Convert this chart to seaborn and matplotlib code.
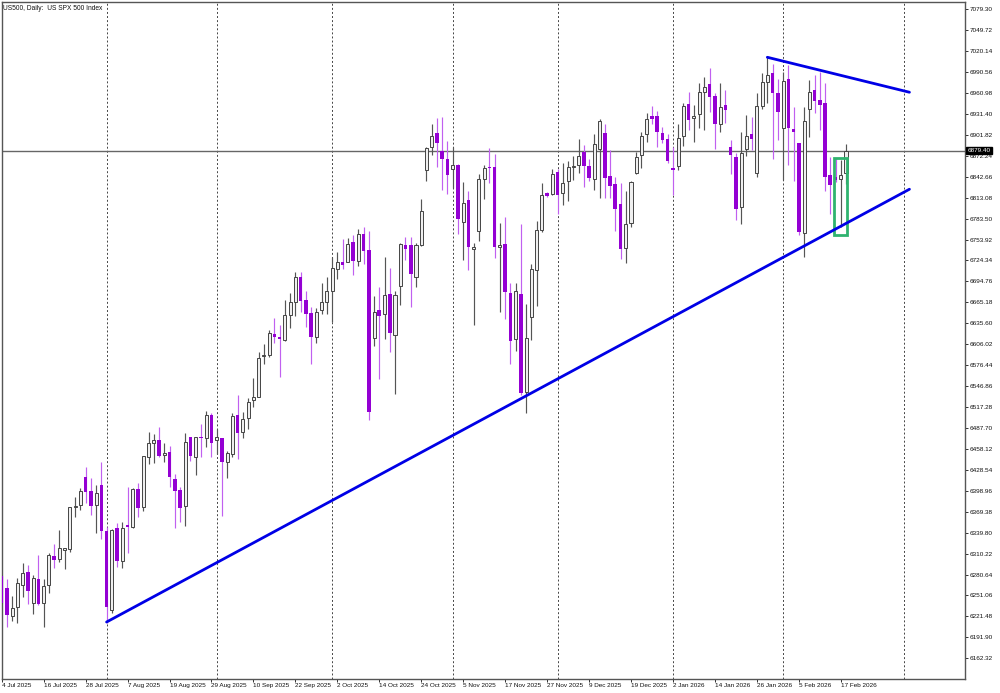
import numpy as np
import pandas as pd
import matplotlib
matplotlib.use("Agg")
import matplotlib.pyplot as plt
from matplotlib.patches import Rectangle
import seaborn as sns

highs = [6278,6273.9,6250.3,6275.3,6296.5,6293.7,6280,6307.8,6273.9,6311.6,
         6323.8,6343.6,6318.6,6376.6,6389.8,6402.5,6432.2,6416.6,6407.2,6439.7,
         6347.4,6344.5,6353,6355.4,6403.9,6402.5,6409.6,6448.6,6482.6,6478.8,
         6489.6,6467,6462.3,6422.7,6403.9,6480.2,6475.5,6475.5,6493.4,6511.8,
         6508.5,6485.9,6473.1,6455.7,6508.5,6534.3,6510.8,6529.6,6558.8,6594.6,
         6606.4,6626.2,6642.7,6633.2,6668.6,6678,6707.6,6708.6,6681.3,6658.2,
         6656.8,6692.1,6700.6,6729.8,6736.9,6754.8,6756.6,6760.4,6768.4,6771.2,
         6766,6674.2,6687.4,6728.8,6713.3,6681.7,6749.6,6757.1,6757.1,6748.7,
         6810.8,6885.3,6917.3,6926.2,6927.6,6893.7,6885.3,6860.8,6834.9,6822.1,
         6749.6,6846.6,6859.4,6882.9,6874.9,6777,6785.4,6693.1,6693.1,6775.5,
         6662.5,6719.5,6780.2,6834.4,6821.7,6853.2,6853.2,6861.7,6865,6872.1,
         6896.1,6887.6,6867.4,6902.7,6923.9,6917.3,6880.5,6841.9,6833.4,6822.6,
         6836.7,6878.1,6906.4,6932.3,6942.7,6935.6,6913.5,6902.6,6885.2,6917.2,
         6946.4,6962.9,6944.1,6975.6,6984.1,6995.9,6960.6,6974.7,6965.3,6894.6,
         6875.8,6905.5,6930,6927.6,6960.6,6988.8,7011.4,7002,6980.4,6991.2,
         7000.6,6940.8,6890.9,6941.7,6979.4,6986.5,6991.2,6974.7,6870.1,6868.7,
         6866.4,6888.5]
body_tops = [6278,6262,6233,6268.2,6282.4,6284.3,6275.3,6273.9,6265,6308.3,
             6307.3,6317.7,6317.7,6375.6,6377.5,6398.7,6419,6398.7,6396.4,6407.2,
             6341.7,6344.1,6346,6346,6350.7,6401.5,6401.5,6448.2,6466.1,6470.8,
             6470.8,6451.9,6453.3,6415.2,6400.1,6468.4,6475.5,6474.5,6475,6506.1,
             6506.1,6475.5,6473.1,6452.9,6505.2,6506,6500.4,6524,6532,6586.1,
             6590.9,6621.5,6620.5,6615.8,6647.4,6666.2,6701.5,6700.6,6668.6,6650.2,
             6651.1,6665.3,6680.8,6714.2,6721.8,6721.8,6747.2,6751,6761.3,6761.3,
             6738.7,6652.1,6654.4,6676.1,6677,6675.2,6747.2,6746.3,6746.3,6746.3,
             6794.4,6882.9,6900.8,6904.1,6879.6,6867.4,6859.8,6859.4,6806.1,6809.9,
             6743,6839.6,6855.6,6856.5,6856.5,6746.8,6747.3,6678,6681.8,6677.5,
             6615.4,6712.4,6767.5,6817.4,6819.8,6846.1,6849.9,6833.4,6856,6857.9,
             6872.1,6877.7,6857.9,6888.5,6921,6905,6843.8,6832.5,6803.7,6775.5,
             6835.3,6871.1,6900.8,6923.8,6928,6928.5,6904,6896,6855.5,6897.9,
             6943.1,6945,6929,6962.9,6969,6973.3,6957.3,6941.7,6944.1,6885.2,
             6871.1,6875.8,6900.8,6902.6,6942.7,6976.1,6986,6989.8,6961.5,6977.5,
             6980.4,6910.2,6890.9,6921.5,6962,6965.3,6951.2,6946.4,6844.7,6842.3,
             6845.2,6879.1]
body_bottoms = [6241,6223.5,6222.6,6234.3,6266.4,6257.9,6240.9,6238.6,6240,6265.4,
                6301.2,6302.2,6315.8,6317.2,6375.6,6379.4,6397.8,6377.5,6378.5,6342.2,
                6235.3,6230.6,6300.3,6300.3,6348.3,6348.3,6374.2,6376.6,6446.3,6467,
                6448.6,6449.1,6419,6398.7,6374.2,6377.5,6448.6,6446.3,6473.1,6473.1,
                6467,6470.3,6439.2,6440.2,6451,6481.1,6481.6,6501.4,6527.3,6532,
                6589.4,6590.9,6615.8,6613,6612,6647.4,6666.2,6667.6,6648.8,6615.8,
                6615.8,6654,6665.3,6680.8,6712.8,6718.5,6722.7,6723.7,6724.1,6738.3,
                6510.3,6614.9,6646,6648.3,6622.4,6619.6,6688.8,6740.7,6705.3,6701.6,
                6746.3,6852.3,6884.3,6890.9,6867.8,6845.7,6854.2,6783,6779.3,6743.9,
                6740.7,6766.6,6839.1,6855.1,6743.9,6743.9,6679.9,6611.1,6613,6537.7,
                6538.6,6645,6711,6767.5,6816,6818.4,6817,6819.3,6837.2,6856.5,
                6858.9,6857.9,6841,6839.6,6881.9,6841.4,6830.1,6796.7,6740.6,6742.5,
                6777.8,6847.5,6873.9,6902.6,6924.8,6906.4,6894.6,6864.9,6851.8,6858.4,
                6900.8,6922.9,6925.3,6930.9,6962.9,6954.9,6917.2,6916.8,6937,6873,
                6797.1,6799.5,6881.9,6896,6847.5,6943.1,6977,6960.6,6933.7,6912,
                6912,6906,6764.6,6763.7,6938.4,6949.3,6944.1,6842.3,6831,6837.6,
                6839,6847.5]
lows = [6241,6206,6215.5,6212.1,6248.5,6239,6224.9,6237.6,6207,6254.1,
        6290.4,6298.9,6288.5,6313,6362.4,6371.9,6382.2,6364.8,6338.9,6330.9,
        6212.7,6225.9,6291.8,6289.4,6311.6,6346,6362.4,6370.5,6436.9,6437.8,
        6447.2,6440.2,6404.8,6346.9,6354.4,6349.3,6441.6,6420.9,6447.2,6460.4,
        6447.2,6450.5,6363.4,6416.6,6447.2,6443.4,6473.1,6485.8,6517.8,6531,
        6577.6,6588.5,6607.3,6559.3,6611.1,6628.5,6646,6652.1,6629.9,6578.1,
        6607.3,6648.3,6648.8,6638,6697.8,6711.9,6721.8,6703.9,6717.1,6719.4,
        6499,6603.6,6557.4,6613.5,6595.1,6535.3,6661,6725.1,6659.2,6686.5,
        6745.4,6836.7,6873.5,6856.1,6824,6817.9,6826.4,6761.9,6725.1,6711,
        6633.7,6752,6811.8,6833.4,6727.5,6651.6,6641.3,6577.7,6597,6534.3,
        6509.4,6612.1,6660.6,6765.2,6813.7,6817,6790.1,6803.3,6808.5,6838.2,
        6847.6,6827.8,6837.2,6824,6812.2,6812.2,6812.2,6766.6,6726,6721.3,
        6771.2,6846.6,6854.6,6892.3,6917.2,6885.2,6889.9,6862.6,6816.9,6852.2,
        6886.6,6908.8,6892.3,6911.1,6908.8,6934.7,6881.4,6906.4,6919.1,6846.6,
        6781.6,6775.5,6872.5,6880.5,6842.8,6938,6946.4,6867.3,6894.6,6838.1,
        6859.3,6837.2,6760.4,6728.8,6899.3,6932.3,6908.8,6823,6789.6,6835.8,
        6772.2,6832.5]
purple_bars = [0,1,5,7,10,16,17,19,20,22,24,26,30,32,33,34,36,38,40,42,45,52,53,57,58,59,
               65,67,69,70,72,74,77,78,83,84,85,87,89,93,94,96,97,99,104,106,111,112,
               115,116,117,118,124,125,126,127,128,131,135,136,138,139,140,143,147,148,
               150,151,152,155,156,157,158,159]

price_ticks = [7079.30,7049.72,7020.14,6990.56,6960.98,6931.40,6901.82,6872.24,
               6842.66,6813.08,6783.50,6753.92,6724.34,6694.76,6665.18,6635.60,
               6606.02,6576.44,6546.86,6517.28,6487.70,6458.12,6428.54,6398.96,
               6369.38,6339.80,6310.22,6280.64,6251.06,6221.48,6191.90,6162.32]
date_labels = ['4 Jul 2025','16 Jul 2025','28 Jul 2025','7 Aug 2025','19 Aug 2025',
               '29 Aug 2025','10 Sep 2025','22 Sep 2025','2 Oct 2025','14 Oct 2025',
               '24 Oct 2025','5 Nov 2025','17 Nov 2025','27 Nov 2025','9 Dec 2025',
               '19 Dec 2025','2 Jan 2026','14 Jan 2026','26 Jan 2026','5 Feb 2026',
               '17 Feb 2026']
date_bars = list(range(0, 168, 8))
month_bars = [20, 41, 63, 86, 106, 128, 149, 172]
last_price = 6879.40

support_x = [20, 173.1]
support_y = [6213.6, 6825]
resistance_x = [146, 173.1]
resistance_y = [7011.4, 6962]
box_x = [158.8, 161.1]
box_y = [6760.4, 6869.6]

sns.set_theme(style="white")
plt.rcParams['font.family'] = ['Liberation Sans', 'DejaVu Sans']

df = pd.DataFrame({'high': highs, 'top': body_tops, 'bottom': body_bottoms, 'low': lows})
df['bar'] = np.arange(len(df))
df['purple'] = df['bar'].isin(purple_bars)

fig = plt.figure(figsize=(10, 6.93), dpi=100)
ax = fig.add_axes([0.0017, 1 - 679 / 693, 0.9636, 677.5 / 693])
ax.set_xlim(0, 183.75)
ax.set_ylim(6133.1, 7090.2)

ax.vlines(month_bars, 6133.1, 7090.2, colors='#444444', linestyles=(0, (2, 2.2)), lw=0.7, zorder=1)
ax.axhline(last_price, color='#666666', lw=1.0, zorder=1)

up = df[~df['purple']]
down = df[df['purple']]
ax.vlines(up['bar'], up['low'], up['high'], colors='#555555', lw=0.85, zorder=2)
ax.vlines(down['bar'], down['low'], down['high'], colors='#c060f0', lw=0.85, zorder=2)
ax.bar(up['bar'], up['top'] - up['bottom'], bottom=up['bottom'], width=0.58,
       facecolor='#efefef', edgecolor='#444444', lw=0.7, zorder=3)
ax.bar(down['bar'], down['top'] - down['bottom'], bottom=down['bottom'], width=0.68,
       color='#9400d3', lw=0, zorder=3)

ax.add_patch(Rectangle((box_x[0], box_y[0]), box_x[1] - box_x[0], box_y[1] - box_y[0],
                       fill=False, edgecolor='#2fb36f', lw=2.0, zorder=4))

sns.lineplot(x=support_x, y=support_y, color='#0000e6', lw=2.0, ax=ax, zorder=5)
sns.lineplot(x=resistance_x, y=resistance_y, color='#0000e6', lw=2.0, ax=ax, zorder=5)

ax.yaxis.tick_right()
ax.set_yticks(price_ticks)
ax.set_yticklabels([f'{p:.2f}' for p in price_ticks])
ax.set_xticks(date_bars)
ax.set_xticklabels(date_labels, ha='left')
ax.tick_params(axis='y', length=2.2, width=0.6, pad=0.8, labelsize=4.6, colors='#111111', right=True)
ax.tick_params(axis='x', length=2.2, width=0.6, pad=0.6, labelsize=4.6, colors='#111111', bottom=True)

for s in ax.spines.values():
    s.set_color('#555555')
    s.set_linewidth(1.0)

ax.text(0.0015, 0.9945, 'US500, Daily:  US SPX 500 Index', transform=ax.transAxes,
        ha='left', va='top', fontsize=4.8, color='#111111')
ax.text(1.0022, last_price, f'{last_price:.2f}', transform=ax.get_yaxis_transform(),
        ha='left', va='center', fontsize=4.6, color='white', zorder=6,
        bbox=dict(facecolor='black', edgecolor='black', pad=0.9), clip_on=False)

fig.savefig('out.png', dpi=100)
